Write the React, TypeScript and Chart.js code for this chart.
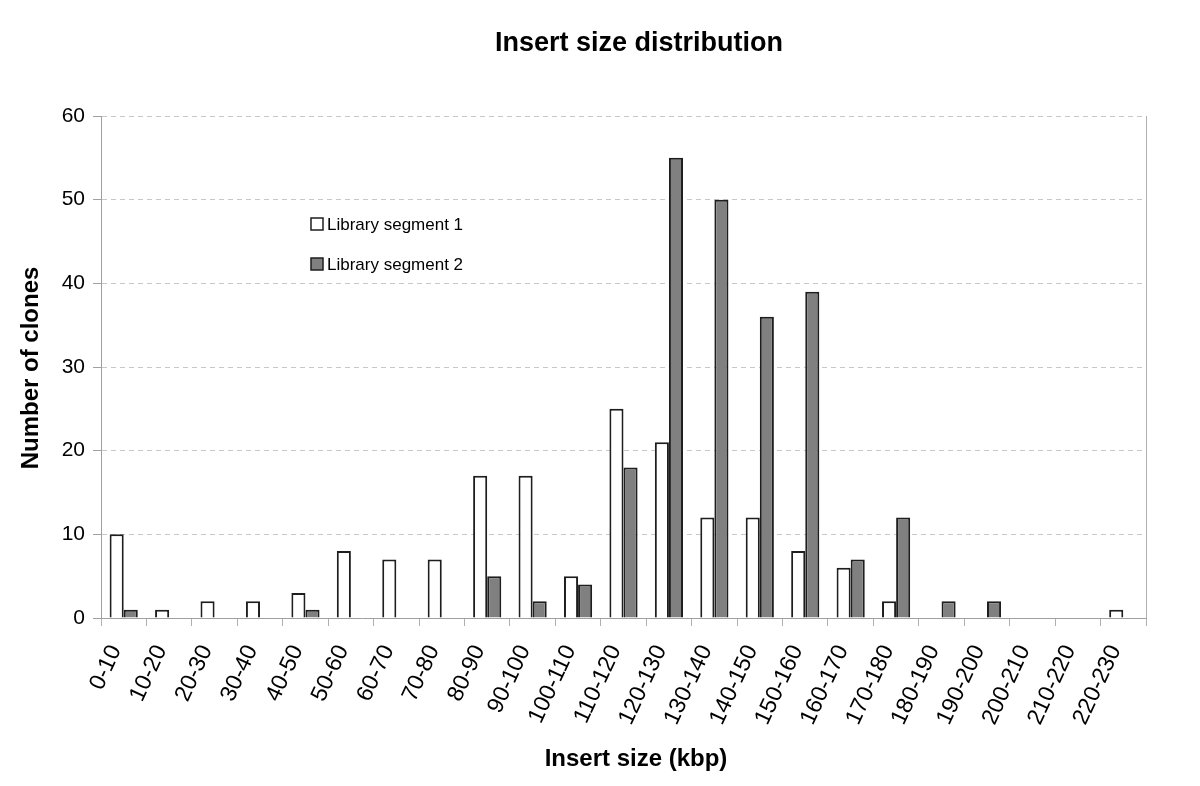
import React, { useEffect, useRef } from "react";
import { Chart, registerables } from "chart.js";

Chart.register(...registerables);

const categories = [
  "0-10", "10-20", "20-30", "30-40", "40-50", "50-60", "60-70", "70-80", "80-90", "90-100",
  "100-110", "110-120", "120-130", "130-140", "140-150", "150-160", "160-170", "170-180",
  "180-190", "190-200", "200-210", "210-220", "220-230",
];
const segment1 = [10, 1, 2, 2, 3, 8, 7, 7, 17, 17, 5, 25, 21, 12, 12, 8, 6, 2, 0, 0, 0, 0, 1];
const segment2 = [1, 0, 0, 0, 1, 0, 0, 0, 5, 2, 4, 18, 55, 50, 36, 39, 7, 12, 2, 2, 0, 0, 0];
const seriesNames = ["Library segment 1", "Library segment 2"];
const yTicks = [0, 10, 20, 30, 40, 50, 60];

const chartTitle = "Insert size distribution";
const xTitle = "Insert size (kbp)";
const yTitle = "Number of clones";

const FONT = "'Liberation Sans', Arial, Helvetica, sans-serif";

const decorPlugin = {
  id: "decor",
  afterDraw(chart: any) {
    const { ctx, chartArea } = chart;
    ctx.save();
    // right border
    ctx.strokeStyle = "#b0b0b0";
    ctx.lineWidth = 1;
    ctx.beginPath();
    ctx.moveTo(chartArea.right + 0.5, chartArea.top);
    ctx.lineTo(chartArea.right + 0.5, chartArea.bottom);
    ctx.stroke();

    // titles
    ctx.fillStyle = "#000";
    ctx.textAlign = "center";
    ctx.textBaseline = "middle";
    ctx.font = `bold 27px ${FONT}`;
    ctx.fillText(chartTitle, 639, 44);
    ctx.font = `bold 24px ${FONT}`;
    ctx.fillText(xTitle, 636, 759);
    ctx.save();
    ctx.translate(31, 368);
    ctx.rotate(-Math.PI / 2);
    ctx.fillText(yTitle, 0, 0);
    ctx.restore();

    // legend
    const lx = chartArea.left + 210;
    const ly = chartArea.top + 108;
    chart.data.datasets.forEach((ds: any, i: number) => {
      const y = ly + i * 40;
      ctx.fillStyle = ds.backgroundColor;
      ctx.strokeStyle = "#1e1e1e";
      ctx.lineWidth = 1.5;
      ctx.fillRect(lx, y - 6, 12, 12);
      ctx.strokeRect(lx, y - 6, 12, 12);
      ctx.fillStyle = "#000";
      ctx.textAlign = "left";
      ctx.textBaseline = "middle";
      ctx.font = `17px ${FONT}`;
      ctx.fillText(ds.label, lx + 16, y + 1);
    });
    ctx.restore();
  },
};

export default function App() {
  const ref = useRef<HTMLCanvasElement | null>(null);
  useEffect(() => {
    document.body.style.margin = "0";
    const chart = new Chart(ref.current as HTMLCanvasElement, {
      type: "bar",
      data: {
        labels: categories,
        datasets: [
          {
            label: seriesNames[0],
            data: segment1,
            backgroundColor: "#ffffff",
            borderColor: "#1e1e1e",
            borderWidth: 2,
            categoryPercentage: 0.62,
            barPercentage: 1.0,
          },
          {
            label: seriesNames[1],
            data: segment2,
            backgroundColor: "#808080",
            borderColor: "#1e1e1e",
            borderWidth: 2,
            categoryPercentage: 0.62,
            barPercentage: 1.0,
          },
        ],
      },
      options: {
        animation: false,
        responsive: false,
        maintainAspectRatio: false,
        layout: { padding: { top: 116, right: 54, left: 0, bottom: 0 } },
        plugins: {
          legend: { display: false },
          title: { display: false },
          tooltip: { enabled: false },
        },
        scales: {
          x: {
            afterFit: (s: any) => {
              s.height = 168;
            },
            grid: {
              offset: true,
              drawOnChartArea: false,
              drawTicks: true,
              tickLength: 8,
              color: "#b0b0b0",
            },
            border: { color: "#a0a0a0", width: 1 },
            ticks: {
              minRotation: 65,
              maxRotation: 65,
              autoSkip: false,
              color: "#000",
              padding: 15,
              labelOffset: -8,
              font: { family: FONT, size: 23 },
            },
          },
          y: {
            min: 0,
            max: 60,
            afterFit: (s: any) => {
              s.width = 101;
            },
            afterBuildTicks: (s: any) => {
              s.ticks = yTicks.map((v) => ({ value: v }));
            },
            grid: {
              color: "#c8c8c8",
              drawTicks: true,
              tickLength: 8,
              tickColor: "#a0a0a0",
              tickBorderDash: [],
            },
            border: { color: "#a0a0a0", width: 1, dash: [5, 4] },
            ticks: {
              color: "#000",
              padding: 8,
              font: { family: FONT, size: 21 },
            },
          },
        },
      },
      plugins: [decorPlugin],
    } as any);
    return () => chart.destroy();
  }, []);
  return (
    <div style={{ position: "fixed", left: 0, top: 0, width: 1200, height: 786, background: "#fff" }}>
      <canvas ref={ref} width={1200} height={786} style={{ width: 1200, height: 786 }} />
    </div>
  );
}
